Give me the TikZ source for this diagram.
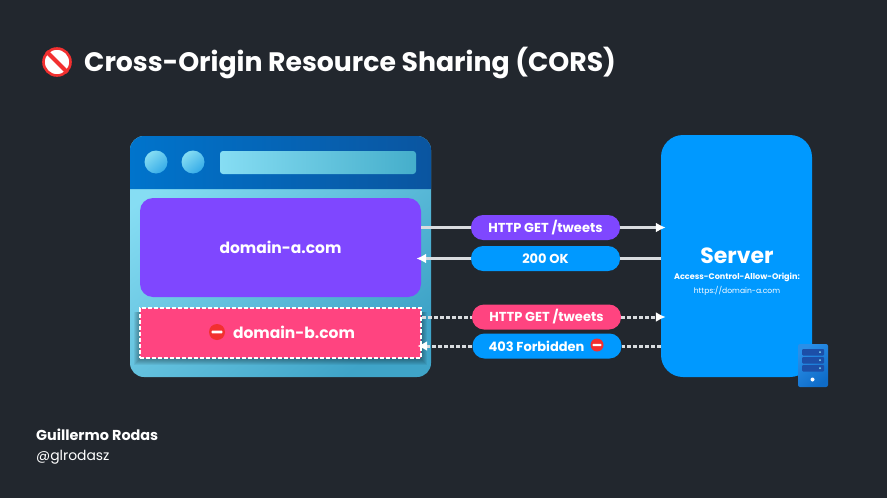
\documentclass[tikz,border=0pt]{standalone}
\usepackage{fontspec}
\usepackage{xcolor}
\usetikzlibrary{arrows.meta}
\setmainfont{Poppins}

\definecolor{slidebg}{HTML}{22272E}
\definecolor{purplebox}{HTML}{7F47FF}
\definecolor{pinkbox}{HTML}{FF4480}
\definecolor{bluebox}{HTML}{0099FF}
\definecolor{stopred}{HTML}{F23030}
\definecolor{flowline}{HTML}{D9DCDF}
\definecolor{skylight}{HTML}{86DDF3}
\definecolor{skydark}{HTML}{3FA4C8}
\definecolor{barend}{HTML}{45AECB}
\definecolor{dotend}{HTML}{35ABE8}
\definecolor{headleft}{HTML}{0074CC}
\definecolor{headright}{HTML}{0A55A0}
\definecolor{rackleft}{HTML}{2A8FE8}
\definecolor{rackright}{HTML}{0F6CC8}
\definecolor{rackbar}{HTML}{1C4FA8}

\tikzset{
    box/.style={rectangle,inner sep=0pt,text=white,font=\bfseries\fontsize{15.5}{18}\selectfont},
    pill/.style={rectangle,rounded corners=12pt,inner sep=0pt,minimum width=149pt,minimum height=25pt,text=white,font=\bfseries\fontsize{13}{15}\selectfont},
    lbl/.style={inner sep=0pt,text=white},
    flow/.style={draw=flowline,line width=2.2pt},
    flowdash/.style={flow,line width=3pt,dash pattern=on 4pt off 2pt},
    tipped/.style={-{Latex[length=10pt,width=10pt,color=white]}},
    dot/.style={circle,inner sep=0pt,minimum size=23pt,left color=skylight,right color=dotend,shading angle=40},
    stopicon/.pic={
        \fill[stopred] (0,0) circle (#1);
        \fill[white,rounded corners=.5pt] (-#1*.66,-#1*.16) rectangle (#1*.66,#1*.16);
    }
}

\begin{document}
\begin{tikzpicture}[x=1pt,y=-1pt]
    \useasboundingbox[fill=slidebg] (0,0) rectangle (887,498);

    \node[lbl,anchor=west,font=\bfseries\fontsize{26.7}{32}\selectfont] (title) at (84,63) {Cross-Origin Resource Sharing (CORS)};
    \node[circle,inner sep=0pt,minimum size=27pt,fill=white,draw=stopred,line width=2.6pt] (titlestop) at (57,62) {};
    \draw[stopred,line width=4pt] (titlestop.north west) -- (titlestop.south east);

    \node[box,minimum width=301pt,minimum height=241pt,rounded corners=14pt,left color=skylight,right color=skydark,shading angle=40] (browser) at (280.5,256.5) {};
    \shade[left color=headleft,right color=headright] (130,189) {[rounded corners=14pt] -- (130,136) -- (431,136)} -- (431,189) -- cycle;
    \node[dot] (dotA) at (156,162) {};
    \node[dot] (dotB) at (193,162) {};
    \node[rectangle,rounded corners=3pt,minimum width=196pt,minimum height=23pt,left color=skylight,right color=barend] (addressbar) at (318,162.5) {};

    \node[box,fill=purplebox,rounded corners=13pt,minimum width=281pt,minimum height=99pt] (domainA) at (280.5,247.5) {domain-a.com};
    \foreach \s in {1,...,6}{
        \fill[black,opacity=.06] (140-\s,312) rectangle (421+\s,359+\s);
    }
    \node[box,fill=pinkbox,draw=white,dash pattern=on 4pt off 2pt,line width=2.4pt,minimum width=281pt,minimum height=50pt] (domainB) at (280.5,333) {};
    \node[lbl,font=\bfseries\fontsize{15.5}{18}\selectfont] (domainBlabel) at (294,332) {domain-b.com};
    \pic at (217,332) {stopicon=8};

    \node[rectangle,rounded corners=22pt,fill=bluebox,minimum width=151pt,minimum height=242pt,inner sep=0pt] (server) at (736.5,256) {};
    \node[lbl,font=\bfseries\fontsize{22}{27}\selectfont] (servername) at (737,256) {Server};
    \node[lbl,font=\bfseries\fontsize{8.1}{10}\selectfont] (serverheader) at (737,277) {Access-Control-Allow-Origin:};
    \node[lbl,font=\fontsize{7.6}{10}\selectfont] (serverorigin) at (737,291) {https://domain-a.com};

    \node[rectangle,rounded corners=2pt,minimum width=30pt,minimum height=43pt,left color=rackleft,right color=rackright,shading angle=40] (rackcase) at (813,365.5) {};
    \foreach \y in {349,357,365}{
        \fill[rackbar,rounded corners=1pt] (802,\y) rectangle (824,\y+6.5);
        \fill[skylight] (820,\y+3.2) circle (1pt);
    }
    \fill[white] (812.5,379.5) circle (2pt);

    \node[pill,fill=purplebox] (getA) at (545.5,227.5) {HTTP GET /tweets};
    \node[pill,fill=bluebox] (okA) at (545.5,258.5) {200 OK};
    \node[pill,fill=pinkbox] (getB) at (546.5,317) {HTTP GET /tweets};
    \node[pill,fill=bluebox] (forbidB) at (547,346) {403 Forbidden\rule{21pt}{0pt}};
    \pic at (597,345) {stopicon=6.5};

    \draw[flow] (domainA.east |- getA) -- (getA.west);
    \draw[flow,tipped,shorten >=-5pt] (getA.east) -- (getA.east -| server.west);
    \draw[flow] (server.west |- okA) -- (okA.east);
    \draw[flow,tipped,shorten >=-5pt] (okA.west) -- (okA.west -| domainA.east);
    \draw[flowdash] (domainB.east |- getB) -- (getB.west);
    \draw[flowdash,tipped,shorten >=-5pt] (getB.east) -- (getB.east -| server.west);
    \draw[flowdash] (server.west |- forbidB) -- (forbidB.east);
    \draw[flowdash,tipped,shorten >=-5pt] (forbidB.west) -- (forbidB.west -| domainB.east);

    \node[lbl,anchor=west,font=\bfseries\fontsize{14.4}{16}\selectfont] (author) at (36,435) {Guillermo Rodas};
    \node[lbl,anchor=west,font=\fontsize{13.9}{16}\selectfont] (handle) at (36,457) {@glrodasz};
\end{tikzpicture}
\end{document}
